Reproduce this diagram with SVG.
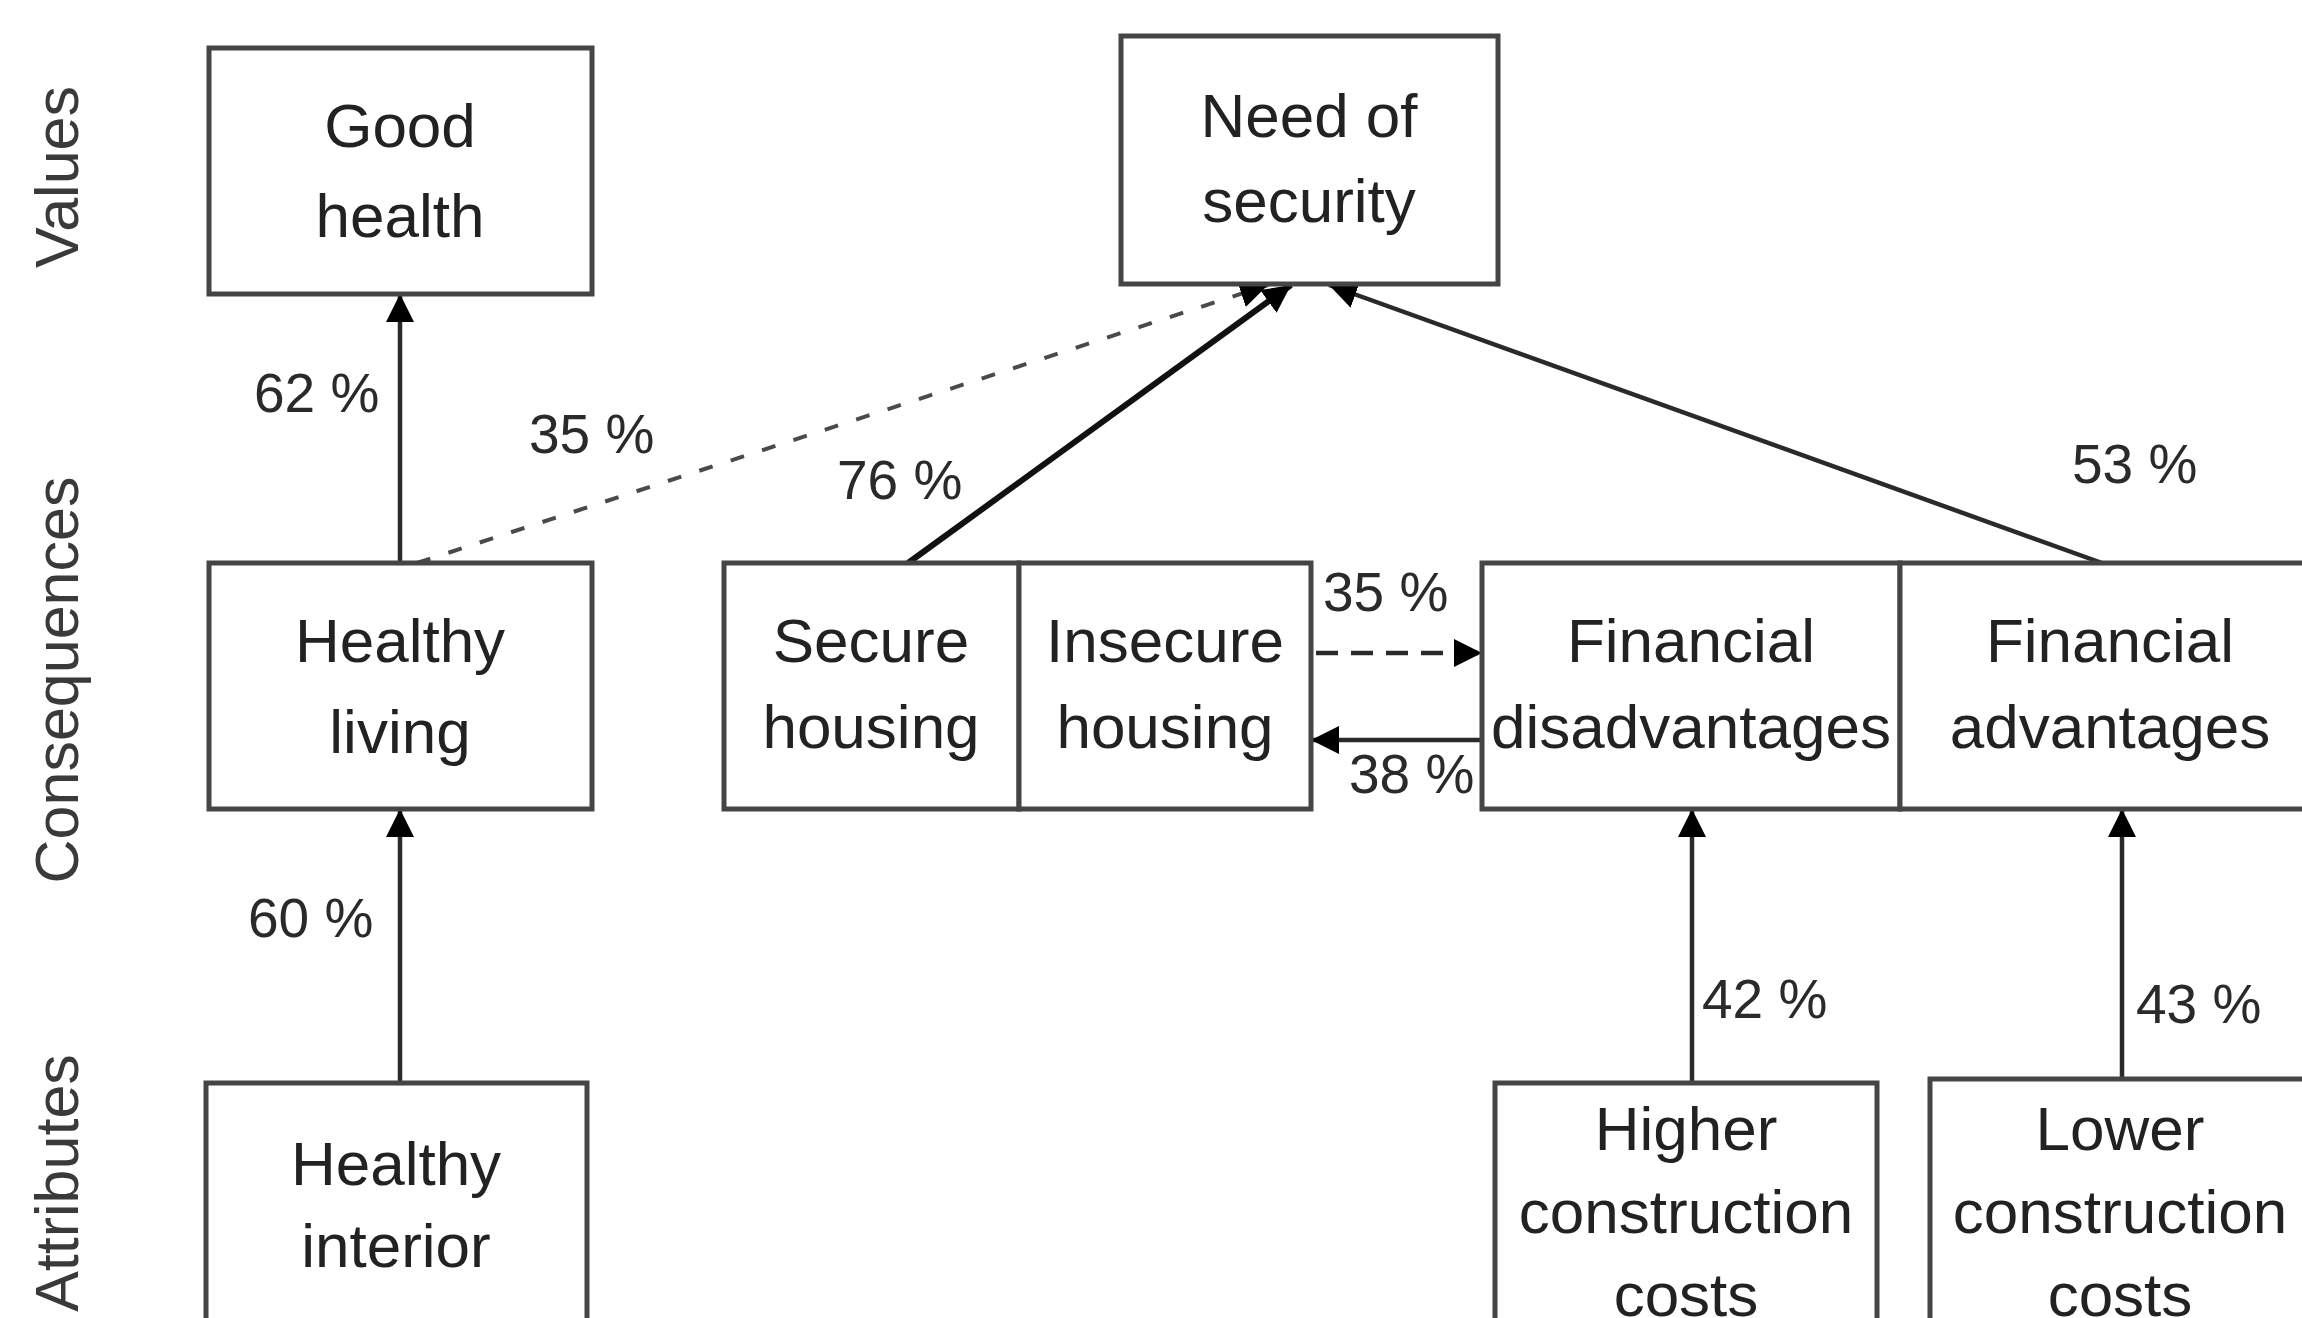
<svg xmlns="http://www.w3.org/2000/svg" width="2302" height="1318" viewBox="0 0 2302 1318">
<style>
.box{fill:#fff;stroke:#454545;stroke-width:5}
.t{font-family:"Liberation Sans",Arial,sans-serif;font-size:62px;fill:#222;text-anchor:middle}
.lbl{font-family:"Liberation Sans",Arial,sans-serif;font-size:55px;fill:#2a2a2a}
.ax{font-family:"Liberation Sans",Arial,sans-serif;font-size:61px;fill:#3a3a3a;text-anchor:middle}
.c{fill:none;stroke:#2a2a2a;stroke-width:4.5}
.thick{stroke:#111;stroke-width:6}
.dash{stroke:#4a4a4a;stroke-width:4;stroke-dasharray:14 19}
.dash2{stroke:#2a2a2a;stroke-width:4.5;stroke-dasharray:22 13}
</style>
<defs>
<marker id="ah" viewBox="0 0 28 28" refX="28" refY="14" markerWidth="28" markerHeight="28" markerUnits="userSpaceOnUse" orient="auto">
<path d="M0,0 L28,14 L0,28 z" fill="#000"/>
</marker>
</defs>
<rect width="2302" height="1318" fill="#fff"/>

<g id="axis-labels">
<text class="ax" transform="translate(78,177) rotate(-90)">Values</text>
<text class="ax" transform="translate(78,680) rotate(-90)">Consequences</text>
<text class="ax" transform="translate(78,1183) rotate(-90)">Attributes</text>
</g>

<g id="connectors">
<line class="c" x1="400" y1="1083" x2="400" y2="809" marker-end="url(#ah)"/>
<line class="c" x1="400" y1="563" x2="400" y2="294" marker-end="url(#ah)"/>
<line class="c dash" x1="417" y1="563" x2="1268" y2="285" marker-end="url(#ah)"/>
<line class="c thick" x1="908" y1="563" x2="1291" y2="285" marker-end="url(#ah)"/>
<line class="c" x1="2102" y1="563" x2="1329" y2="285" marker-end="url(#ah)"/>
<line class="c dash2" x1="1316" y1="653" x2="1482" y2="653" marker-end="url(#ah)"/>
<line class="c" x1="1482" y1="740" x2="1311" y2="740" marker-end="url(#ah)"/>
<line class="c" x1="1692" y1="1083" x2="1692" y2="809" marker-end="url(#ah)"/>
<line class="c" x1="2122" y1="1079" x2="2122" y2="809" marker-end="url(#ah)"/>
<text class="lbl" x="254" y="412">62 %</text>
<text class="lbl" x="529" y="453">35 %</text>
<text class="lbl" x="837" y="499">76 %</text>
<text class="lbl" x="2072" y="483">53 %</text>
<text class="lbl" x="1323" y="611">35 %</text>
<text class="lbl" x="1349" y="793">38 %</text>
<text class="lbl" x="248" y="937">60 %</text>
<text class="lbl" x="1702" y="1018">42 %</text>
<text class="lbl" x="2136" y="1023">43 %</text>
</g>

<g id="good-health">
<rect class="box" x="209" y="48" width="383" height="246"/>
<text class="t" x="400" y="147">Good</text>
<text class="t" x="400" y="237">health</text>
</g>
<g id="need-of-security">
<rect class="box" x="1121" y="36" width="377" height="248"/>
<text class="t" x="1309" y="137">Need of</text>
<text class="t" x="1309" y="222">security</text>
</g>
<g id="healthy-living">
<rect class="box" x="209" y="563" width="383" height="246"/>
<text class="t" x="400" y="662">Healthy</text>
<text class="t" x="400" y="753">living</text>
</g>
<g id="secure-housing">
<rect class="box" x="724" y="563" width="295" height="246"/>
<text class="t" x="871" y="662">Secure</text>
<text class="t" x="871" y="748">housing</text>
</g>
<g id="insecure-housing">
<rect class="box" x="1019" y="563" width="292" height="246"/>
<text class="t" x="1165" y="662">Insecure</text>
<text class="t" x="1165" y="748">housing</text>
</g>
<g id="financial-disadvantages">
<rect class="box" x="1482" y="563" width="418" height="246"/>
<text class="t" x="1691" y="662">Financial</text>
<text class="t" x="1691" y="748">disadvantages</text>
</g>
<g id="financial-advantages">
<rect class="box" x="1900" y="563" width="420" height="246"/>
<text class="t" x="2110" y="662">Financial</text>
<text class="t" x="2110" y="748">advantages</text>
</g>
<g id="healthy-interior">
<rect class="box" x="206" y="1083" width="381" height="260"/>
<text class="t" x="396" y="1185">Healthy</text>
<text class="t" x="396" y="1267">interior</text>
</g>
<g id="higher-construction-costs">
<rect class="box" x="1495" y="1083" width="382" height="260"/>
<text class="t" x="1686" y="1150">Higher</text>
<text class="t" x="1686" y="1233">construction</text>
<text class="t" x="1686" y="1316">costs</text>
</g>
<g id="lower-construction-costs">
<rect class="box" x="1930" y="1079" width="380" height="264"/>
<text class="t" x="2120" y="1150">Lower</text>
<text class="t" x="2120" y="1233">construction</text>
<text class="t" x="2120" y="1316">costs</text>
</g>
</svg>
